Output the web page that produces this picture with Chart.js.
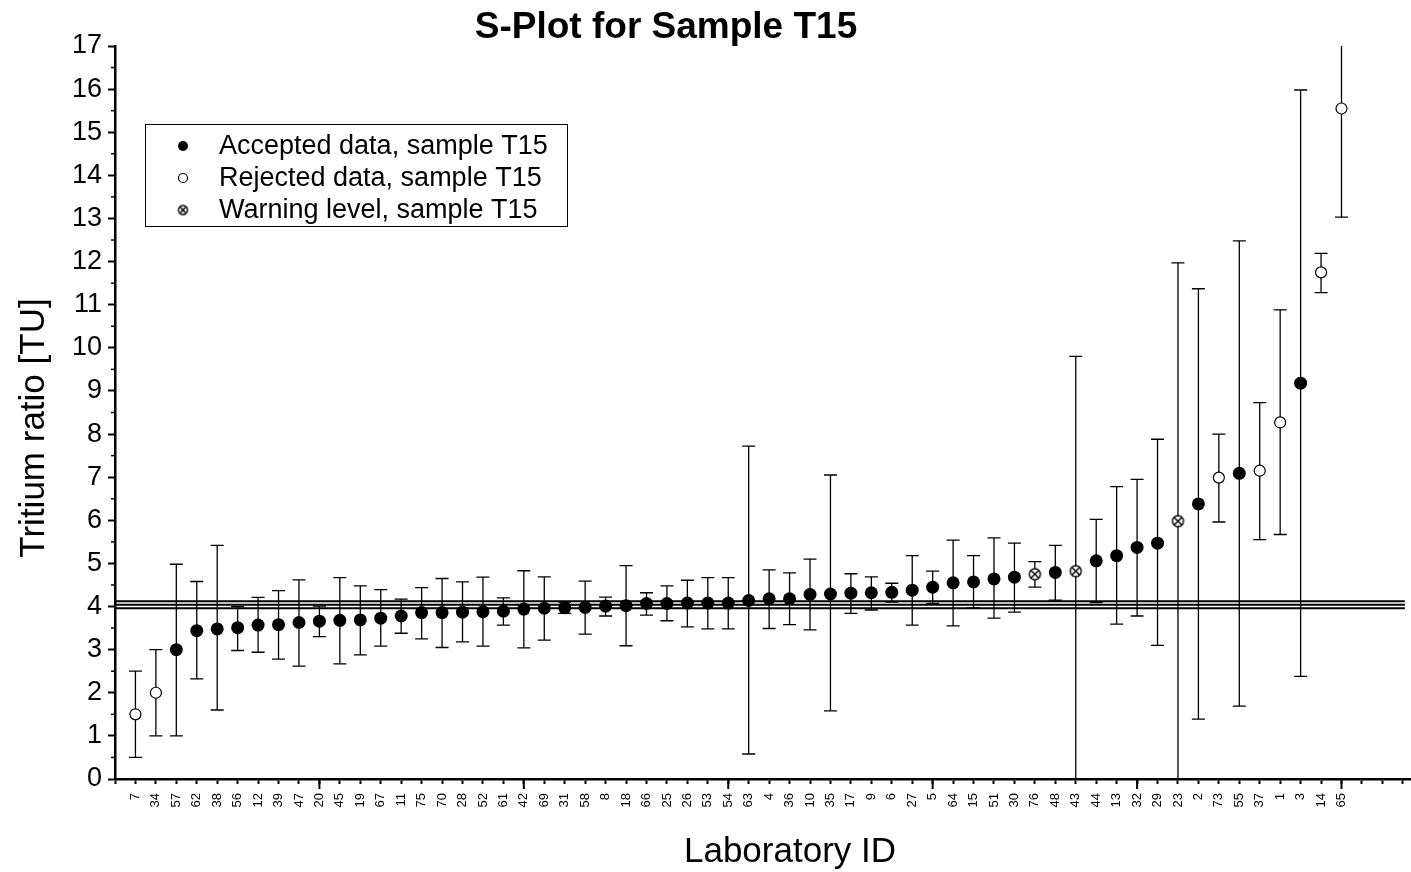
<!DOCTYPE html>
<html>
<head>
<meta charset="utf-8">
<title>S-Plot for Sample T15</title>
<script src="https://cdn.jsdelivr.net/npm/chart.js@4.4.1/dist/chart.umd.min.js"></script>
<style>
  html, body { margin: 0; padding: 0; background: #fff; }
  canvas { display: block; }
</style>
</head>
<body>
<canvas id="splot" width="1411" height="872"></canvas>
<script>
// Laboratory IDs in sorted order (x = 1..60)
const labIds = ['7','34','57','62','38','56','12','39','47','20','45','19','67','11','75','70','28','52','61','42',
  '69','31','58','8','18','66','25','26','53','54','63','4','36','10','35','17','9','6','27','5',
  '64','15','51','30','76','48','43','44','13','32','29','23','2','73','55','37','1','3','14','65'];

// Tritium ratio [TU]
const values = [1.5, 2.0, 3.0, 3.44, 3.48, 3.51, 3.57, 3.58, 3.63, 3.66,
  3.68, 3.69, 3.73, 3.78, 3.86, 3.86, 3.87, 3.88, 3.89, 3.94,
  3.96, 3.97, 3.98, 4.01, 4.02, 4.07, 4.07, 4.08, 4.08, 4.08,
  4.14, 4.18, 4.18, 4.28, 4.29, 4.31, 4.32, 4.33, 4.38, 4.45,
  4.55, 4.57, 4.64, 4.68, 4.75, 4.79, 4.82, 5.06, 5.18, 5.37,
  5.47, 5.98, 6.38, 6.99, 7.09, 7.15, 8.27, 9.18, 11.75, 15.55];

// error bar ends
const errHigh = [2.5, 3.0, 4.98, 4.58, 5.42, 4.0, 4.21, 4.37, 4.62, 4.01,
  4.67, 4.48, 4.39, 4.17, 4.44, 4.65, 4.57, 4.68, 4.20, 4.83,
  4.69, 4.10, 4.59, 4.22, 4.95, 4.32, 4.48, 4.61, 4.67, 4.67,
  7.72, 4.85, 4.78, 5.10, 7.05, 4.76, 4.69, 4.54, 5.18, 4.82,
  5.54, 5.18, 5.59, 5.47, 5.04, 5.42, 9.80, 6.02, 6.78, 6.95,
  7.88, 11.97, 11.37, 8.0, 12.48, 8.73, 10.88, 15.98, 12.19, 18.05];
const errLow = [0.5, 1.0, 1.0, 2.32, 1.6, 2.98, 2.94, 2.78, 2.62, 3.30,
  2.67, 2.88, 3.08, 3.38, 3.25, 3.05, 3.18, 3.08, 3.57, 3.04,
  3.22, 3.84, 3.36, 3.78, 3.09, 3.80, 3.67, 3.53, 3.48, 3.48,
  0.58, 3.49, 3.58, 3.46, 1.58, 3.84, 3.92, 4.10, 3.57, 4.07,
  3.55, 3.97, 3.73, 3.87, 4.45, 4.15, -0.17, 4.09, 3.59, 3.78,
  3.10, -0.02, 1.39, 5.96, 1.69, 5.55, 5.67, 2.38, 11.28, 13.03];

// A = accepted, R = rejected, W = warning level
const status = ['R','R','A','A','A','A','A','A','A','A',
  'A','A','A','A','A','A','A','A','A','A',
  'A','A','A','A','A','A','A','A','A','A',
  'A','A','A','A','A','A','A','A','A','A',
  'A','A','A','A','W','A','W','A','A','A',
  'A','W','A','R','A','R','R','A','R','R'];

// reference value and its band
const refLines = [4.12, 4.04, 3.96];
const refXEnd = 63.1;

const seriesNames = ['Accepted data, sample T15', 'Rejected data, sample T15', 'Warning level, sample T15'];

function pointsFor(code) {
  const out = [];
  values.forEach((v, i) => { if (status[i] === code) out.push({ x: i + 1, y: v }); });
  return out;
}

function warnMarker(r) {
  const c = document.createElement('canvas');
  const s = Math.ceil(2 * r + 4);
  c.width = c.height = s;
  const g = c.getContext('2d');
  const m = s / 2;
  g.lineWidth = 1.4;
  g.strokeStyle = '#000';
  g.fillStyle = '#fff';
  g.beginPath();
  g.arc(m, m, r, 0, Math.PI * 2);
  g.fill();
  g.stroke();
  const d = r * 0.7;
  g.beginPath();
  g.moveTo(m - d, m - d); g.lineTo(m + d, m + d);
  g.moveTo(m + d, m - d); g.lineTo(m - d, m + d);
  g.stroke();
  return c;
}
const warnImg = warnMarker(5.5);
const warnImgSmall = warnMarker(4.5);

const FONT = '"Liberation Sans", Arial, Helvetica, sans-serif';

// error bars under the markers
const errorBars = {
  id: 'errorBars',
  beforeDatasetsDraw(chart) {
    const { ctx, chartArea, scales } = chart;
    ctx.save();
    ctx.beginPath();
    ctx.rect(chartArea.left, chartArea.top, chartArea.right - chartArea.left, chartArea.bottom - chartArea.top);
    ctx.clip();
    ctx.strokeStyle = '#000';
    ctx.lineWidth = 1.3;
    values.forEach((v, i) => {
      const x = scales.x.getPixelForValue(i + 1);
      const yt = scales.y.getPixelForValue(errHigh[i]);
      const yb = scales.y.getPixelForValue(errLow[i]);
      ctx.beginPath();
      ctx.moveTo(x, yt); ctx.lineTo(x, yb);
      ctx.moveTo(x - 6.5, yt); ctx.lineTo(x + 6.5, yt);
      ctx.moveTo(x - 6.5, yb); ctx.lineTo(x + 6.5, yb);
      ctx.stroke();
    });
    ctx.restore();
  }
};

// minor ticks, long major ticks, titles and framed legend
const decorations = {
  id: 'decorations',
  afterDraw(chart) {
    const { ctx, chartArea, scales } = chart;
    const xs = scales.x, ys = scales.y;
    ctx.save();
    ctx.strokeStyle = '#000';
    ctx.lineWidth = 2;
    // x major ticks every 10
    for (let v = 10; v <= 60; v += 10) {
      const px = xs.getPixelForValue(v);
      ctx.beginPath(); ctx.moveTo(px, chartArea.bottom); ctx.lineTo(px, chartArea.bottom + 10); ctx.stroke();
    }
    // y minor ticks
    ctx.lineWidth = 1.5;
    for (let v = 0.5; v < 17; v += 1) {
      const py = ys.getPixelForValue(v);
      ctx.beginPath(); ctx.moveTo(chartArea.left, py); ctx.lineTo(chartArea.left - 4, py); ctx.stroke();
    }

    ctx.fillStyle = '#000';
    ctx.textAlign = 'center';
    ctx.textBaseline = 'middle';
    ctx.font = 'bold 37px ' + FONT;
    ctx.fillText('S-Plot for Sample T15', 666, 28);
    ctx.font = '35px ' + FONT;
    ctx.fillText('Laboratory ID', 790, 852);
    ctx.save();
    ctx.translate(34, 428);
    ctx.rotate(-Math.PI / 2);
    ctx.fillText('Tritium ratio [TU]', 0, 0);
    ctx.restore();

    // legend box
    ctx.lineWidth = 1;
    ctx.strokeRect(145.5, 124.5, 422, 102);
    const rows = [146, 178, 210];
    ctx.textAlign = 'left';
    ctx.font = '27px ' + FONT;
    rows.forEach((ry, k) => {
      const mx = 183;
      if (k === 0) {
        ctx.beginPath(); ctx.arc(mx, ry, 5, 0, Math.PI * 2); ctx.fill();
      } else if (k === 1) {
        ctx.lineWidth = 1.2;
        ctx.fillStyle = '#fff';
        ctx.beginPath(); ctx.arc(mx, ry, 4.5, 0, Math.PI * 2); ctx.fill(); ctx.stroke();
        ctx.fillStyle = '#000';
      } else {
        ctx.drawImage(warnImgSmall, mx - warnImgSmall.width / 2, ry - warnImgSmall.height / 2);
      }
      ctx.fillText(seriesNames[k], 219, ry + 1);
    });
    ctx.restore();
  }
};

const refDatasets = refLines.map(v => ({
  type: 'line',
  data: [{ x: 0, y: v }, { x: refXEnd, y: v }],
  borderColor: '#000',
  borderWidth: 2,
  pointRadius: 0,
  fill: false,
  order: 5
}));

new Chart(document.getElementById('splot'), {
  type: 'scatter',
  data: {
    datasets: [
      ...refDatasets,
      {
        label: seriesNames[0],
        data: pointsFor('A'),
        pointStyle: 'circle',
        pointRadius: 6.5,
        backgroundColor: '#000',
        borderColor: '#000',
        borderWidth: 0,
        order: 1
      },
      {
        label: seriesNames[1],
        data: pointsFor('R'),
        pointStyle: 'circle',
        pointRadius: 5.5,
        backgroundColor: '#fff',
        borderColor: '#000',
        borderWidth: 1.2,
        order: 1
      },
      {
        label: seriesNames[2],
        data: pointsFor('W'),
        pointStyle: warnImg,
        pointRadius: 6,
        order: 1
      }
    ]
  },
  options: {
    responsive: false,
    animation: false,
    layout: { autoPadding: false, padding: { top: 46, right: 0, left: 0, bottom: 0 } },
    plugins: {
      legend: { display: false },
      title: { display: false },
      tooltip: { enabled: false }
    },
    scales: {
      x: {
        type: 'linear',
        min: 0,
        max: 63.4,
        afterFit: s => { s.height = 93; s.paddingLeft = 0; s.paddingRight = 0; },
        border: { display: true, color: '#000', width: 2.5 },
        grid: { drawOnChartArea: false, drawTicks: true, tickLength: 5, tickColor: '#000', tickWidth: 2 },
        ticks: {
          stepSize: 1,
          includeBounds: false,
          autoSkip: false,
          maxRotation: 90,
          minRotation: 90,
          padding: 9,
          color: '#000',
          font: { family: FONT, size: 13 },
          callback: v => (v >= 1 && v <= labIds.length && Number.isInteger(v)) ? labIds[v - 1] : ''
        }
      },
      y: {
        type: 'linear',
        min: 0,
        max: 17,
        afterFit: s => { s.width = 115; },
        border: { display: true, color: '#000', width: 2.5 },
        grid: { drawOnChartArea: false, drawTicks: true, tickLength: 7, tickColor: '#000', tickWidth: 2 },
        ticks: {
          stepSize: 1,
          padding: 6,
          color: '#000',
          font: { family: FONT, size: 27 }
        }
      }
    }
  },
  plugins: [errorBars, decorations]
});
</script>
</body>
</html>
